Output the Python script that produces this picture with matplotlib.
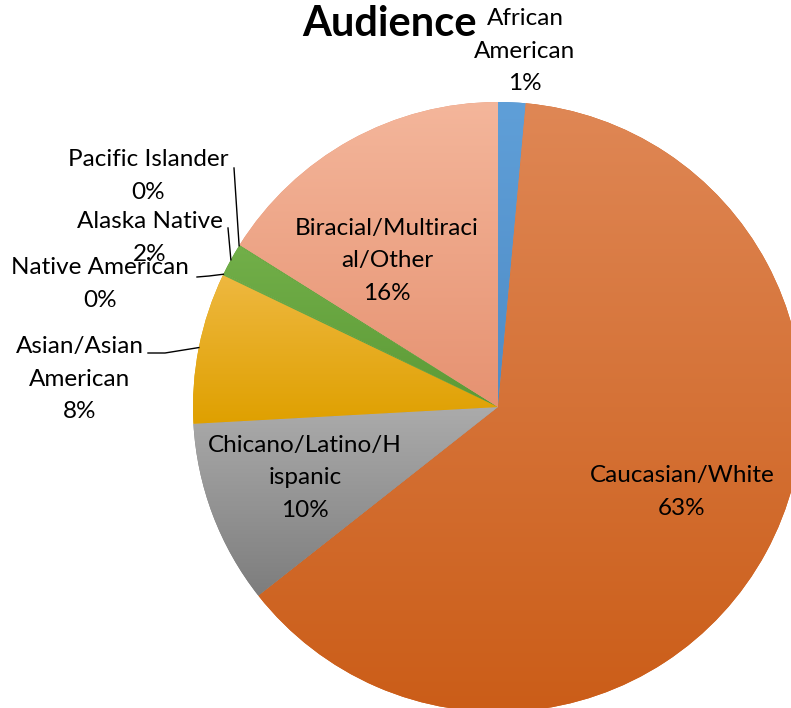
import numpy as np
import matplotlib
matplotlib.use("Agg")
import matplotlib.pyplot as plt
from matplotlib.colors import to_rgb

plt.rcParams["font.family"] = ["Lato", "DejaVu Sans"]

# ── data ────────────────────────────────────────────────────────────────
categories = ["African\nAmerican", "Caucasian/White", "Chicano/Latino/H\nispanic",
              "Asian/Asian\nAmerican", "Native American", "Alaska Native",
              "Pacific Islander", "Biracial/Multiraci\nal/Other"]
values = [1.45, 63.0, 9.75, 8.0, 0.1, 1.6, 0.1, 16.1]

# gradient top / bottom colours per slice
top_colors = ["#5f9fd8", "#df8755", "#ababab", "#eeb840", "#70ad47", "#72af49", "#70ad47", "#f4b69b"]
bot_colors = ["#4f8cc6", "#cb5d18", "#7d7d7d", "#dfa000", "#5c9a36", "#5c9a36", "#5c9a36", "#e69271"]

W, H = 791, 708
CX, CY, R = 498, 407, 305   # pie centre / radius in pixels


def px(x, y):
    """pixel position -> data coords (pie radius = 1)"""
    return (x - CX) / R, (CY - y) / R


fig = plt.figure(figsize=(W / 100, H / 100), dpi=100)
ax = fig.add_axes([0, 0, 1, 1])
ax.axis("off")

wedges, _ = ax.pie(values, colors=bot_colors, startangle=90, counterclock=False,
                   radius=1, center=(0, 0), wedgeprops=dict(linewidth=0))

# vertical gradient in each slice
for w, c0, c1 in zip(wedges, top_colors, bot_colors):
    ext = w.get_path().get_extents()
    t = np.linspace(0, 1, 256)[:, None, None]
    grad = (1 - t) * np.array(to_rgb(c0)) + t * np.array(to_rgb(c1))
    im = ax.imshow(grad, extent=(ext.x0, ext.x1, ext.y0, ext.y1),
                   aspect="auto", interpolation="bilinear", zorder=2)
    im.set_clip_path(w)

pct = [f"{round(v / sum(values) * 100):d}%" for v in values]
fs = 17.5
ls = 1.65

# labels inside slices
inside = {1: (682, 492), 2: (305, 478), 7: (387, 261)}
for i, (x, y) in inside.items():
    ax.text(*px(x, y), f"{categories[i]}\n{pct[i]}", ha="center", va="center",
            fontsize=fs, linespacing=ls, zorder=5)

# labels outside with leader lines: (text centre, line start, elbow)
outside = {
    0: ((525, 51), None, None),
    3: ((80, 379), (148, 353), (165, 353)),
    4: ((100, 284), (197, 277), (209, 276)),
    5: ((150, 238), (228, 228), None),
    6: ((148, 176), (234, 168), None),
}
for i, (tpos, start, elbow) in outside.items():
    ax.text(*px(*tpos), f"{categories[i]}\n{pct[i]}", ha="center", va="center",
            fontsize=fs, linespacing=ls, zorder=5)
    if start is None:
        continue
    w = wedges[i]
    mid = np.radians((w.theta1 + w.theta2) / 2)
    end = (np.cos(mid), np.sin(mid))
    pts = [px(*start)] + ([px(*elbow)] if elbow else []) + [end]
    xs, ys = zip(*pts)
    ax.plot(xs, ys, color="black", lw=1.0, zorder=4)

ax.text(*px(390, 24), "Audience", ha="center", va="center",
        fontsize=30, fontweight="bold", zorder=5)

ax.set_xlim(-CX / R, (W - CX) / R)
ax.set_ylim(-(H - CY) / R, CY / R)

fig.savefig("out.png", dpi=100)
